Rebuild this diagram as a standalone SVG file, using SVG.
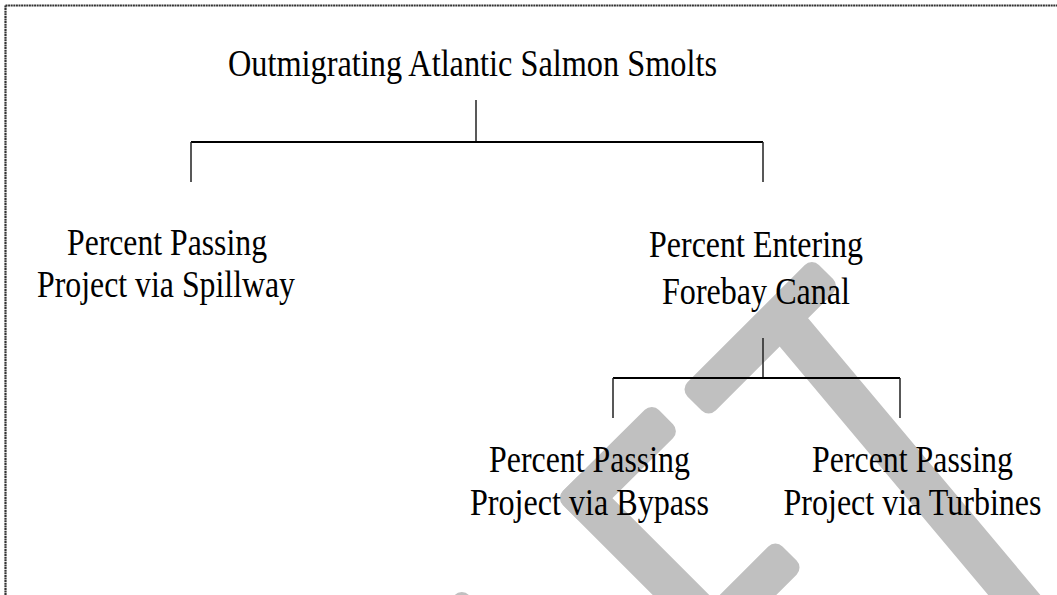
<svg xmlns="http://www.w3.org/2000/svg" width="1057" height="595" viewBox="0 0 1057 595">
<style>
.lbl{font-family:"Liberation Serif","Times New Roman",serif;font-size:37px;fill:#000;text-anchor:middle}
.wm{fill:#c0c0c0}
.h{stroke:#000;stroke-width:2;fill:none}
.v{stroke:#222;stroke-width:1.5;fill:none}
.frame{stroke:#333;stroke-width:2.2;fill:none;stroke-dasharray:2 0.6}
</style>
<rect width="1057" height="595" fill="#fff"/>
<g id="watermark">
<rect class="wm" x="-93" y="-20" width="186" height="40" rx="10" transform="translate(760.25,337.75) rotate(-45)"/>
<rect class="wm" x="-231.5" y="-20" width="463" height="40" rx="10" transform="translate(935,500.5) rotate(50)"/>
<rect class="wm" x="-67.5" y="-20" width="135" height="40" rx="10" transform="translate(618,464.5) rotate(135.3)"/>
<rect class="wm" x="-134.3" y="-20" width="268.7" height="40" rx="10" transform="translate(665,579) rotate(45)"/>
<rect class="wm" x="-70.4" y="-20" width="140.7" height="40" rx="10" transform="translate(739.75,603.25) rotate(135)"/>
<rect class="wm" x="-50" y="-20" width="100" height="40" rx="10" transform="translate(440.6,637.4) rotate(135)"/>
</g>
<path class="frame" d="M5.5,5.5H1057M5.5,5.5V595"/>
<g id="connectors">
<path class="v" d="M476,100V142"/>
<path class="h" d="M191,142H763"/>
<path class="v" d="M191,142V182M763,142V182"/>
<path class="v" d="M763,338V378"/>
<path class="h" d="M613,378H900"/>
<path class="v" d="M613,378V418M900,378V418"/>
</g>
<g id="n-root">
<text class="lbl" x="472.5" y="76" textLength="489" lengthAdjust="spacingAndGlyphs">Outmigrating Atlantic Salmon Smolts</text>
</g>
<g id="n-spillway">
<text class="lbl" x="167" y="255" textLength="200" lengthAdjust="spacingAndGlyphs">Percent Passing</text>
<text class="lbl" x="166" y="297" textLength="258" lengthAdjust="spacingAndGlyphs">Project via Spillway</text>
</g>
<g id="n-forebay">
<text class="lbl" x="756" y="257" textLength="214" lengthAdjust="spacingAndGlyphs">Percent Entering</text>
<text class="lbl" x="756" y="304" textLength="188" lengthAdjust="spacingAndGlyphs">Forebay Canal</text>
</g>
<g id="n-bypass">
<text class="lbl" x="589.5" y="472" textLength="201" lengthAdjust="spacingAndGlyphs">Percent Passing</text>
<text class="lbl" x="589.5" y="515" textLength="239" lengthAdjust="spacingAndGlyphs">Project via Bypass</text>
</g>
<g id="n-turbines">
<text class="lbl" x="912.5" y="472" textLength="201" lengthAdjust="spacingAndGlyphs">Percent Passing</text>
<text class="lbl" x="912.5" y="515" textLength="258" lengthAdjust="spacingAndGlyphs">Project via Turbines</text>
</g>
</svg>
